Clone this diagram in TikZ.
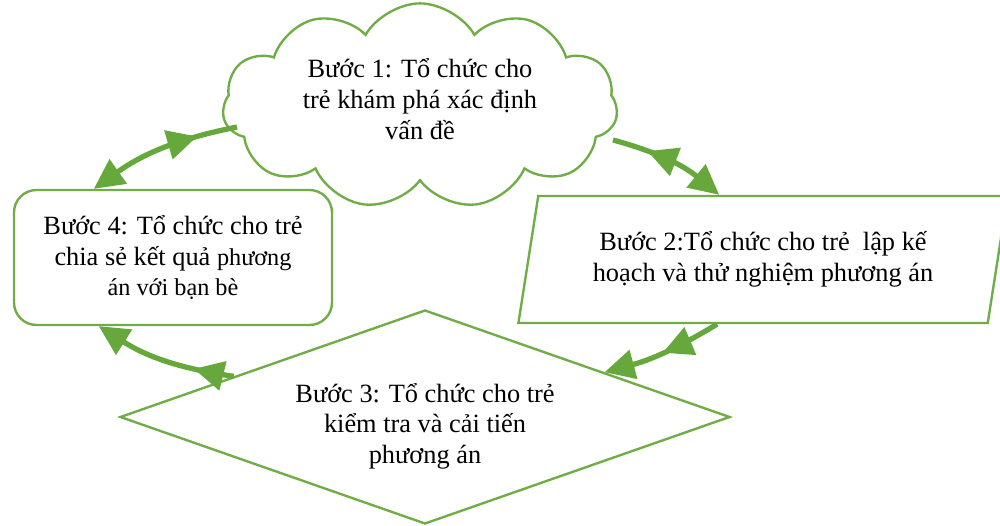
\documentclass[tikz,border=0pt]{standalone}
\usepackage{fontspec}
\setmainfont{Liberation Serif}
\usetikzlibrary{shapes.geometric,shapes.symbols,arrows.meta,decorations.markings}
\definecolor{leafgreen}{RGB}{112,173,71}
\definecolor{arrowgreen}{RGB}{103,168,60}

\begin{document}
\begin{tikzpicture}[
    >={Triangle[length=0.6cm,width=0.58cm]},
    box/.style={draw=leafgreen, line width=1.35pt, fill=white, align=center,
        font=\fontsize{15}{17.5}\selectfont},
    link/.style={color=arrowgreen, line width=3pt},
    midhead/.style={postaction={decorate,decoration={markings,
        mark=at position #1 with {\arrow{>}}}}},
    midback/.style={postaction={decorate,decoration={markings,
        mark=at position #1 with {\arrowreversed{>}}}}}]
    \useasboundingbox (0,0) rectangle (20,10.5);

    % the four steps
    \node[box, cloud, cloud puffs=11, cloud puff arc=120, aspect=2.1,
        minimum width=7.9cm, minimum height=3.56cm, inner sep=0pt] (s1) at (8.4,8.38)
        {Bước 1: Tổ chức cho\\trẻ khám phá xác định\\vấn đề\rule[-0.28cm]{0pt}{0pt}};
    \node[box, trapezium, trapezium left angle=77, trapezium right angle=103,
        trapezium stretches=true, minimum width=9.8cm, minimum height=2.54cm] (s2) at (15.26,5.31)
        {Bước 2:Tổ chức cho trẻ \ lập kế\\hoạch và thử nghiệm phương án};
    \node[box, diamond, aspect=2.85, minimum width=12.2cm, minimum height=4.28cm,
        inner sep=0pt] (s3) at (8.5,2.16)
        {\rule{0pt}{0.75cm}Bước 3: Tổ chức cho trẻ\\kiểm tra và cải tiến\\phương án};
    \node[box, rectangle, rounded corners=0.45cm, minimum width=6.36cm,
        minimum height=2.7cm] (s4) at (3.46,5.35)
        {Bước 4: Tổ chức cho trẻ\\chia sẻ kết quả {\fontsize{13.8}{17.5}\selectfont phương}\\
        {\fontsize{13.8}{17.5}\selectfont án với bạn bè}};

    % curved arrows between the steps
    \draw[link, <-, midhead=0.74] ([xshift=1.62cm]s4.north west) to[bend left=12]
        ([shift={(-3.66,-0.42)}]s1.center);
    \draw[link, ->, midback=0.3] ([shift={(3.86,-0.68)}]s1.center) to[bend left=12]
        ([xshift=3.64cm]s2.top left corner);
    \draw[link, ->, midhead=0.5] ([xshift=4cm]s2.bottom left corner) to[bend left=8] (s3.14);
    \draw[link, <-, midback=0.72] ([xshift=1.72cm]s4.south west) to[bend right=12] (s3.168);
\end{tikzpicture}
\end{document}
